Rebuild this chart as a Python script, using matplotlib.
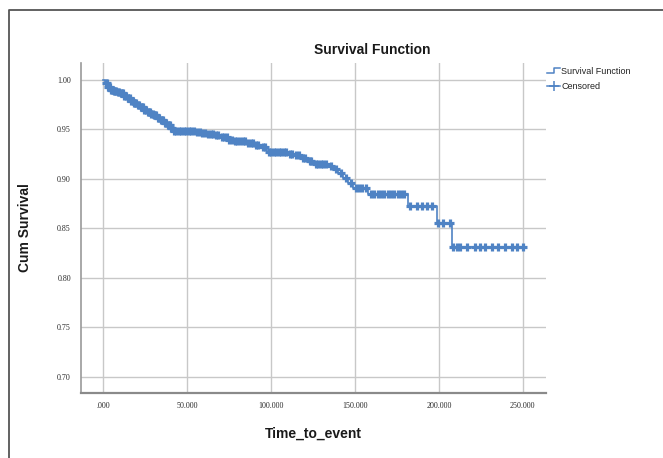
import matplotlib
matplotlib.use("Agg")
import matplotlib.pyplot as plt
from matplotlib.lines import Line2D
import numpy as np

# Kaplan-Meier step curve: event times and survival after each step
event_times = [0, 1000, 2500, 4000, 6000, 8000, 10000, 12000, 14000, 16000, 18000,
               20000, 22000, 24000, 26000, 28000, 30000, 32000, 34000, 36000, 38000,
               40000, 41500, 55000, 58000, 62000, 66000, 70000, 74000, 78000, 86000,
               90000, 94000, 97500, 110000, 114000, 118000, 122000, 125000, 134000,
               137000, 140000, 143000, 146000, 149000, 158000, 181500, 199000, 208000]
survival = [1.000, 0.997, 0.993, 0.990, 0.989, 0.988, 0.9865, 0.984, 0.9815, 0.979, 0.977,
            0.975, 0.9725, 0.970, 0.968, 0.966, 0.9645, 0.962, 0.9595, 0.957, 0.9545,
            0.951, 0.948, 0.947, 0.946, 0.945, 0.944, 0.942, 0.9395, 0.938, 0.936,
            0.934, 0.932, 0.9275, 0.925, 0.924, 0.9215, 0.918, 0.9155, 0.913,
            0.910, 0.906, 0.901, 0.896, 0.891, 0.8847, 0.8726, 0.855, 0.831]
end_time = 250400

# censored cases (times)
censored_times = [1500, 2200, 3000, 3700, 4500, 5200, 5500, 6500, 7000, 7700, 8500, 9500,
                  10500, 11000, 11700, 12500, 13500, 14500, 15000, 15700, 16500, 17500,
                  18500, 19000, 19700, 20500, 21500, 22500, 23000, 23700, 24500, 25500,
                  26500, 27000, 27700, 28500, 29500, 30500, 31000, 31700, 32500, 33500,
                  34500, 35000, 35700, 36500, 37500, 38500, 39000, 39700, 40500, 41000,
                  42000, 43500, 45000, 46500, 48000, 49500, 51000, 52500, 54000, 56000,
                  57500, 59000, 60500, 62500, 64000, 65500, 67000, 68500, 70500, 72000,
                  73500, 75000, 76500, 78500, 80000, 81500, 83000, 84500, 86500, 88000,
                  89500, 91000, 92500, 95000, 96500, 98500, 100000, 101500, 103000,
                  104500, 106000, 107500, 109000, 111000, 112500, 115000, 116500, 119000,
                  120500, 123000, 124000, 126500, 128000, 129500, 131000, 132500, 135500,
                  138500, 141500, 144500, 147500, 150500, 152500, 154500, 156500, 159500,
                  161500, 163500, 165500, 167500, 169500, 171500, 173500, 175500, 177500,
                  179500, 183000, 186800, 189800, 192800, 195700, 199700, 202700, 206700,
                  208600, 210700, 212600, 216600, 221600, 224600, 227600, 231500,
                  235500, 239500, 243500, 246400, 250400]

y_ticks = [0.70, 0.75, 0.80, 0.85, 0.90, 0.95, 1.00]
x_ticks = [0, 50000, 100000, 150000, 200000, 250000]
x_tick_labels = [".000", "50.000", "100.000", "150.000", "200.000", "250.000"]

blue = "#4f83c4"
grid_c = "#c8c8c8"

W, H = 663, 458
fig = plt.figure(figsize=(W / 100, H / 100), dpi=100)
ax = fig.add_axes([80.7 / W, 1 - 392.7 / H, (546 - 80.7) / W, (392.7 - 63) / H])

# step curve
xs = event_times + [end_time]
ys = survival + [survival[-1]]
ax.step(xs, ys, where="post", color=blue, lw=1.2, zorder=3)

# censored marks sit on the curve
idx = np.searchsorted(event_times, censored_times, side="right") - 1
cens_y = np.array(survival)[idx]
ax.plot(censored_times, cens_y, ls="none", marker="+", ms=5.8, mew=2.3,
        color=blue, zorder=4)

ax.set_xlim(-13470, 263900)
ax.set_ylim(0.6838, 1.0172)
ax.set_xticks(x_ticks)
ax.set_xticklabels(x_tick_labels)
ax.set_yticks(y_ticks)
ax.set_yticklabels([f"{v:.2f}" for v in y_ticks])
ax.tick_params(length=0, pad=7, labelsize=5.8, labelcolor="#2a2a2a")
for lab in ax.get_xticklabels() + ax.get_yticklabels():
    lab.set_family("Liberation Serif")
ax.grid(True, color=grid_c, lw=1.0)
ax.set_axisbelow(True)
for s in ("top", "right"):
    ax.spines[s].set_visible(False)
ax.spines["left"].set_color("#9a9a9a")
ax.spines["left"].set_linewidth(1.2)
ax.spines["bottom"].set_color("#8a8a8a")
ax.spines["bottom"].set_linewidth(1.6)

ax.set_xlabel("Time_to_event", fontsize=10, fontweight="bold",
              family="Liberation Sans", color="#1a1a1a", labelpad=12)
ax.set_ylabel("Cum Survival", fontsize=10, fontweight="bold",
              family="Liberation Sans", color="#1a1a1a", labelpad=18)
fig.text(372 / W, 1 - 50 / H, "Survival Function", ha="center", va="center",
         fontsize=10, fontweight="bold", family="Liberation Sans", color="#1a1a1a")

# legend drawn by hand (step icon + plus icon)
def fx(px):
    return px / W

def fy(py):
    return 1 - py / H

fig.add_artist(Line2D([fx(547), fx(554), fx(554), fx(560)],
                      [fy(73), fy(73), fy(67.5), fy(67.5)], color=blue, lw=1.1))
fig.add_artist(Line2D([fx(547), fx(560)], [fy(86), fy(86)], color=blue, lw=1.1))
fig.add_artist(Line2D([fx(553.5)], [fy(86)], marker="+", ms=7, mew=1.1, color=blue))
leg_font = ["Liberation Sans Narrow", "Liberation Sans"]
fig.text(fx(561), fy(71), "Survival Function", fontsize=6.5, family=leg_font,
         color="#222222", va="center", ha="left")
fig.text(fx(561), fy(86.5), "Censored", fontsize=6.5, family=leg_font,
         color="#222222", va="center", ha="left")

# outer frame (cropped at right and bottom)
fig.add_artist(Line2D([fx(9), fx(9), 1.0], [0.0, fy(10), fy(10)],
                      color="#555555", lw=1.3))

fig.savefig("out.png", dpi=100)
